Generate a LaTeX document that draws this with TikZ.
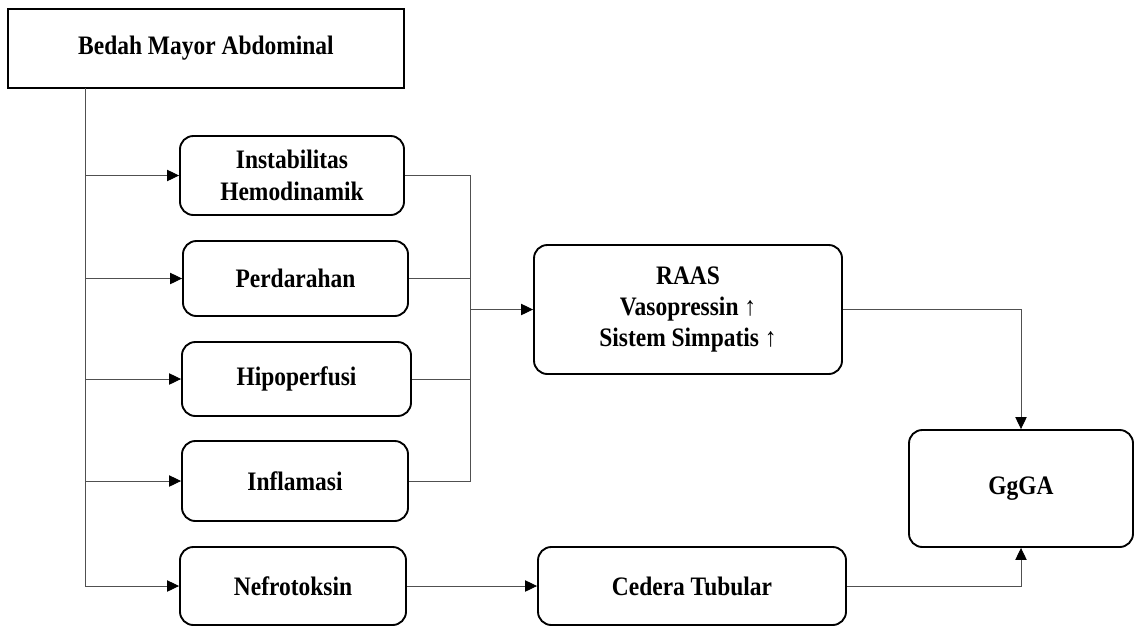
\documentclass[tikz,border=0pt]{standalone}
\usepackage{fontspec}
\setmainfont{Liberation Serif}[FakeStretch=0.88]
\usepackage{tikz}
\usetikzlibrary{arrows.meta}
\definecolor{lngray}{RGB}{80,80,80}
\tikzset{
  box/.style={draw,line width=1.4pt,align=center,inner sep=0pt,
    font=\fontsize{20}{23.5}\selectfont\bfseries},
  rbox/.style={box,rounded corners=10pt},
  conn/.style={draw=lngray,line width=0.7pt},
  arr/.style={conn,-{Triangle[length=9pt,width=8.5pt,color=black]}}
}

\begin{document}
\begin{tikzpicture}[x=0.75pt,y=-0.75pt]
\useasboundingbox (0,0) rectangle (1136,626);
% kotak-kotak
\node[box,minimum width=396*0.75pt,minimum height=79*0.75pt] (bma) at (206,48.5) {Bedah Mayor Abdominal};
\node[rbox,minimum width=224*0.75pt,minimum height=79*0.75pt] (ih) at (292,175.5) {Instabilitas\\Hemodinamik};
\node[rbox,minimum width=225*0.75pt,minimum height=75*0.75pt] (pd) at (295.5,278.5) {Perdarahan};
\node[rbox,minimum width=229*0.75pt,minimum height=74*0.75pt] (hp) at (296.5,379) {Hipoperfusi};
\node[rbox,minimum width=226*0.75pt,minimum height=80*0.75pt] (inf) at (295,481) {Inflamasi};
\node[rbox,minimum width=226*0.75pt,minimum height=78*0.75pt] (nf) at (293,586) {Nefrotoksin};
\node[rbox,minimum width=308*0.75pt,minimum height=129*0.75pt] (raas) at (688,309.5) {RAAS\\Vasopressin ↑\\Sistem Simpatis ↑};
\node[rbox,minimum width=224*0.75pt,minimum height=117*0.75pt] (ggga) at (1021,488.5) {GgGA};
\node[rbox,minimum width=308*0.75pt,minimum height=78*0.75pt] (ct) at (692,586) {Cedera Tubular};

% garis
\coordinate (tk) at (85,88);
\coordinate (cl) at (470,309.5);
\draw[arr] (tk) |- (nf.west);
\draw[arr] (tk |- ih.west) -- (ih.west);
\draw[arr] (tk |- pd.west) -- (pd.west);
\draw[arr] (tk |- hp.west) -- (hp.west);
\draw[arr] (tk |- inf.west) -- (inf.west);
\draw[conn] (ih.east) -| (cl);
\draw[conn] (inf.east) -| (cl);
\draw[conn] (pd.east) -- (pd.east -| cl);
\draw[conn] (hp.east) -- (hp.east -| cl);
\draw[arr] (cl) -- (raas.west);
\draw[arr] (raas.east) -| (ggga.north);
\draw[arr] (ct.east) -| (ggga.south);
\draw[arr] (nf.east) -- (ct.west);
\end{tikzpicture}
\end{document}
